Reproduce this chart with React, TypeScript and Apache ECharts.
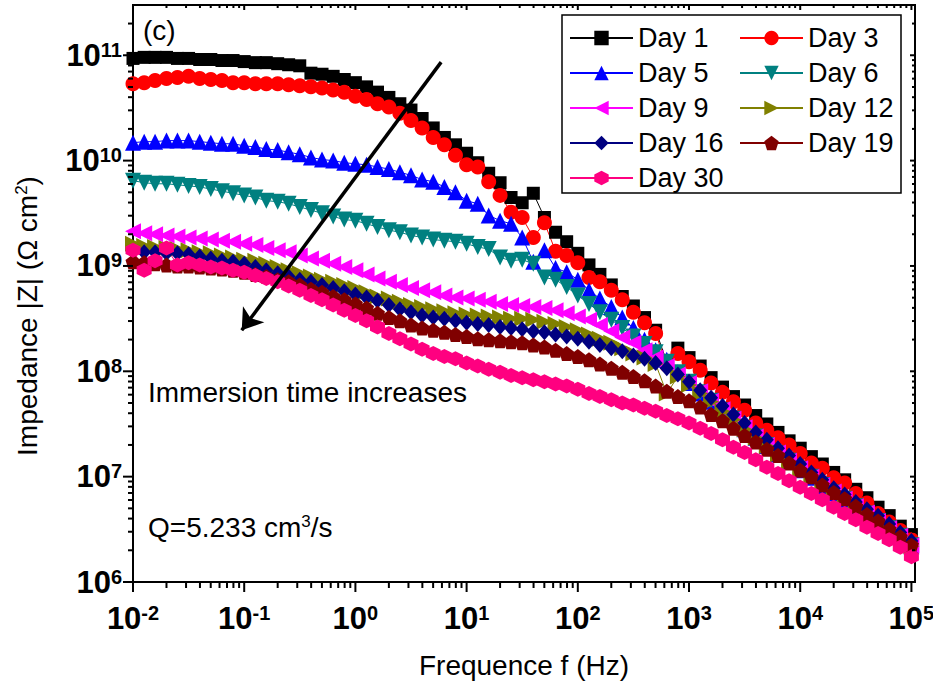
import React, { useEffect, useRef } from 'react';
import * as echarts from 'echarts';

// Frequencies (Hz), 10 points per decade, 10^-2 .. 10^5
const FREQ_HZ = [
  0.01, 0.0126, 0.0158, 0.02, 0.0251, 0.0316, 0.0398, 0.0501, 0.0631, 0.0794,
  0.1, 0.126, 0.158, 0.2, 0.251, 0.316, 0.398, 0.501, 0.631, 0.794,
  1, 1.26, 1.58, 2, 2.51, 3.16, 3.98, 5.01, 6.31, 7.94,
  10, 12.6, 15.8, 20, 25.1, 31.6, 39.8, 50.1, 63.1, 79.4,
  100, 126, 158, 200, 251, 316, 398, 501, 631, 794,
  1000, 1260, 1580, 2000, 2510, 3160, 3980, 5010, 6310, 7940,
  10000, 12600, 15800, 20000, 25100, 31600, 39800, 50100, 63100, 79400,
  100000,
];

// log10 |Z| (ohm cm^2)
const DAY_1 = [
  10.97, 10.98, 10.98, 10.98, 10.97, 10.97, 10.96, 10.96, 10.95, 10.95,
  10.94, 10.93, 10.93, 10.92, 10.91, 10.90, 10.83, 10.82, 10.80, 10.77,
  10.74, 10.70, 10.65, 10.60, 10.54, 10.48, 10.40, 10.31, 10.22, 10.15,
  10.07, 9.98, 9.88, 9.79, 9.65, 9.60, 9.69, 9.46, 9.32, 9.23,
  9.12, 9.01, 8.92, 8.82, 8.71, 8.62, 8.51, 8.39, 8.09, 8.22,
  8.13, 8.05, 7.94, 7.85, 7.76, 7.68, 7.58, 7.50, 7.42, 7.34,
  7.27, 7.19, 7.12, 7.04, 6.97, 6.88, 6.80, 6.71, 6.63, 6.53,
  6.45,
];
const DAY_3 = [
  10.73, 10.74, 10.76, 10.78, 10.79, 10.80, 10.78, 10.77, 10.76, 10.74,
  10.74, 10.73, 10.73, 10.73, 10.72, 10.71, 10.70, 10.69, 10.67, 10.65,
  10.61, 10.58, 10.54, 10.51, 10.45, 10.38, 10.31, 10.22, 10.15, 10.05,
  9.96, 9.94, 9.80, 9.67, 9.51, 9.46, 9.27, 9.41, 9.14, 9.10,
  9.03, 8.89, 8.85, 8.77, 8.68, 8.56, 8.46, 8.36, 8.06, 8.17,
  8.09, 8.01, 7.89, 7.80, 7.71, 7.63, 7.51, 7.44, 7.37, 7.30,
  7.22, 7.13, 7.08, 6.99, 6.94, 6.84, 6.75, 6.65, 6.57, 6.49,
  6.40,
];
const DAY_5 = [
  10.17, 10.18, 10.18, 10.19, 10.19, 10.19, 10.18, 10.17, 10.16, 10.16,
  10.14, 10.13, 10.11, 10.10, 10.08, 10.06, 10.03, 10.01, 10.00, 9.98,
  9.97, 9.96, 9.94, 9.92, 9.89, 9.86, 9.82, 9.80, 9.75, 9.70,
  9.62, 9.59, 9.48, 9.43, 9.40, 9.27, 9.04, 9.15, 8.98, 8.94,
  8.87, 8.77, 8.69, 8.61, 8.51, 8.41, 8.30, 8.20, 8.11, 7.99,
  7.89, 7.79, 7.71, 7.62, 7.54, 7.45, 7.37, 7.29, 7.21, 7.14,
  7.06, 6.99, 6.91, 6.84, 6.78, 6.71, 6.64, 6.57, 6.50, 6.43,
  6.34,
];
const DAY_6 = [
  9.81, 9.79, 9.78, 9.78, 9.77, 9.76, 9.75, 9.73, 9.71, 9.69,
  9.67, 9.65, 9.62, 9.61, 9.59, 9.56, 9.53, 9.50, 9.47, 9.44,
  9.43, 9.40, 9.37, 9.34, 9.32, 9.29, 9.27, 9.25, 9.24, 9.23,
  9.21, 9.18, 9.16, 9.08, 9.05, 9.06, 9.02, 8.89, 8.87, 8.80,
  8.72, 8.64, 8.56, 8.49, 8.41, 8.33, 8.26, 8.18, 8.09, 7.99,
  7.90, 7.80, 7.72, 7.63, 7.55, 7.46, 7.38, 7.30, 7.22, 7.15,
  7.07, 7.00, 6.92, 6.85, 6.79, 6.72, 6.65, 6.58, 6.51, 6.44,
  6.35,
];
const DAY_9 = [
  9.33, 9.31, 9.30, 9.29, 9.28, 9.27, 9.26, 9.25, 9.24, 9.23,
  9.21, 9.20, 9.17, 9.15, 9.13, 9.10, 9.07, 9.05, 9.02, 8.99,
  8.96, 8.92, 8.88, 8.85, 8.82, 8.79, 8.77, 8.75, 8.72, 8.70,
  8.69, 8.68, 8.66, 8.64, 8.63, 8.62, 8.61, 8.60, 8.58, 8.55,
  8.52, 8.49, 8.44, 8.38, 8.32, 8.27, 8.20, 8.13, 8.05, 7.97,
  7.89, 7.81, 7.72, 7.64, 7.55, 7.47, 7.38, 7.30, 7.23, 7.15,
  7.08, 7.00, 6.92, 6.86, 6.79, 6.72, 6.66, 6.58, 6.51, 6.44,
  6.35,
];
const DAY_12 = [
  9.21, 9.19, 9.18, 9.17, 9.16, 9.15, 9.13, 9.12, 9.10, 9.08,
  9.06, 9.05, 9.02, 8.99, 8.96, 8.93, 8.90, 8.87, 8.85, 8.82,
  8.79, 8.75, 8.71, 8.69, 8.66, 8.63, 8.61, 8.59, 8.57, 8.55,
  8.54, 8.53, 8.52, 8.51, 8.50, 8.50, 8.49, 8.47, 8.45, 8.42,
  8.39, 8.35, 8.31, 8.27, 8.22, 8.17, 8.13, 8.07, 7.79, 7.95,
  7.87, 7.79, 7.71, 7.62, 7.54, 7.45, 7.37, 7.29, 7.21, 7.14,
  7.06, 6.99, 6.91, 6.84, 6.78, 6.71, 6.65, 6.58, 6.50, 6.43,
  6.34,
];
const DAY_16 = [
  9.14, 9.13, 9.13, 9.12, 9.12, 9.11, 9.09, 9.07, 9.05, 9.04,
  9.02, 8.99, 8.96, 8.93, 8.90, 8.87, 8.85, 8.82, 8.79, 8.76,
  8.73, 8.70, 8.67, 8.63, 8.59, 8.56, 8.53, 8.51, 8.50, 8.48,
  8.46, 8.45, 8.44, 8.42, 8.41, 8.40, 8.38, 8.37, 8.35, 8.33,
  8.31, 8.28, 8.25, 8.22, 8.19, 8.15, 8.12, 8.08, 8.03, 7.97,
  7.90, 7.82, 7.75, 7.67, 7.59, 7.51, 7.42, 7.35, 7.27, 7.20,
  7.12, 7.04, 6.97, 6.89, 6.83, 6.76, 6.69, 6.63, 6.55, 6.47,
  6.39,
];
const DAY_19 = [
  9.04, 9.03, 9.02, 9.01, 9.00, 9.00, 8.99, 8.98, 8.97, 8.96,
  8.94, 8.92, 8.90, 8.87, 8.85, 8.82, 8.78, 8.75, 8.71, 8.68,
  8.64, 8.60, 8.55, 8.51, 8.48, 8.44, 8.41, 8.39, 8.37, 8.35,
  8.33, 8.31, 8.30, 8.29, 8.28, 8.27, 8.25, 8.23, 8.20, 8.17,
  8.14, 8.11, 8.07, 8.03, 7.99, 7.95, 7.91, 7.86, 7.81, 7.76,
  7.72, 7.66, 7.59, 7.53, 7.46, 7.39, 7.33, 7.26, 7.20, 7.13,
  7.06, 7.00, 6.92, 6.85, 6.79, 6.72, 6.64, 6.58, 6.50, 6.43,
  6.35,
];
const DAY_30 = [
  9.15, 8.96, 9.05, 9.17, 9.01, 9.03, 9.01, 8.99, 8.98, 8.96,
  8.94, 8.91, 8.88, 8.85, 8.81, 8.77, 8.72, 8.68, 8.63, 8.58,
  8.53, 8.48, 8.42, 8.36, 8.31, 8.26, 8.21, 8.17, 8.14, 8.12,
  8.08, 8.05, 8.02, 7.99, 7.96, 7.94, 7.92, 7.90, 7.88, 7.86,
  7.83, 7.79, 7.76, 7.73, 7.70, 7.68, 7.65, 7.62, 7.58, 7.55,
  7.51, 7.46, 7.41, 7.35, 7.28, 7.23, 7.16, 7.09, 7.03, 6.96,
  6.90, 6.84, 6.78, 6.71, 6.65, 6.59, 6.52, 6.46, 6.40, 6.33,
  6.24,
];

const SERIES_NAMES = ['Day 1', 'Day 3', 'Day 5', 'Day 6', 'Day 9', 'Day 12', 'Day 16', 'Day 19', 'Day 30'];
const SERIES_VALUES = [DAY_1, DAY_3, DAY_5, DAY_6, DAY_9, DAY_12, DAY_16, DAY_19, DAY_30];

// Axis ranges and ticks
const X_MIN = 0.01;
const X_MAX = 1.077e5;
const Y_MIN = 1e6;
const Y_MAX = 3e11;
const X_MAJOR_TICKS = [0.01, 0.1, 1, 10, 100, 1000, 10000, 100000];
const Y_MAJOR_TICKS = [1e6, 1e7, 1e8, 1e9, 1e10, 1e11];
const MINOR_STEPS = [2, 3, 4, 5, 6, 7, 8, 9];

// Annotation arrow (data coordinates: Hz, ohm cm^2)
const ARROW_START = [5.9, 8.6e10];
const ARROW_END = [0.095, 2.45e8];

const FONT = '"Liberation Sans", Arial, Helvetica, sans-serif';

const PENTAGON = 'path://M0,-10 L9.51,-3.09 L5.88,8.09 L-5.88,8.09 L-9.51,-3.09 Z';
const HEXAGON = 'path://M0,-10 L8.66,-5 L8.66,5 L0,10 L-8.66,5 L-8.66,-5 Z';

const STYLES = [
  { color: '#000000', symbol: 'rect', size: 13, rotate: 0 },
  { color: '#FF0000', symbol: 'circle', size: 15, rotate: 0 },
  { color: '#0000FF', symbol: 'triangle', size: 16, rotate: 0 },
  { color: '#008080', symbol: 'triangle', size: 16, rotate: 180 },
  { color: '#FF00FF', symbol: 'triangle', size: 16, rotate: 90 },
  { color: '#808000', symbol: 'triangle', size: 16, rotate: -90 },
  { color: '#000080', symbol: 'diamond', size: [14, 16], rotate: 0 },
  { color: '#800000', symbol: PENTAGON, size: 15, rotate: 0 },
  { color: '#FF0080', symbol: HEXAGON, size: 15, rotate: 0 },
];

function powLabel(v: number): string {
  const e = Math.log10(v);
  const r = Math.round(e);
  if (Math.abs(e - r) > 1e-6) return '';
  return `{b|10}{s|${r}}`;
}

const tickRich = {
  b: { fontSize: 31, fontWeight: 'bold', fontFamily: FONT, color: '#000' },
  s: { fontSize: 20, fontWeight: 'bold', fontFamily: FONT, color: '#000', verticalAlign: 'top' },
};

function buildOption(): any {
  const xTicks: number[][] = [];
  X_MAJOR_TICKS.forEach((v) => xTicks.push([v, Y_MIN, 1]));
  for (let i = 0; i < X_MAJOR_TICKS.length - 1; i++) {
    MINOR_STEPS.forEach((m) => xTicks.push([X_MAJOR_TICKS[i] * m, Y_MIN, 0]));
  }
  const yTicks: number[][] = [];
  Y_MAJOR_TICKS.forEach((v) => yTicks.push([X_MIN, v, 1]));
  Y_MAJOR_TICKS.forEach((v) => {
    MINOR_STEPS.forEach((m) => {
      if (v * m < Y_MAX * 0.99) yTicks.push([X_MIN, v * m, 0]);
    });
  });

  const tickStyle = { stroke: '#000', lineWidth: 2 };

  const dataSeries = SERIES_NAMES.map((name, i) => {
    const st = STYLES[i];
    const s: any = {
      name,
      type: 'line',
      data: FREQ_HZ.map((f, k) => [f, Math.pow(10, SERIES_VALUES[i][k])]),
      symbol: st.symbol,
      symbolSize: st.size,
      symbolRotate: st.rotate,
      showSymbol: true,
      showAllSymbol: true,
      lineStyle: { color: st.color, width: 1 },
      itemStyle: { color: st.color },
      emphasis: { disabled: true },
      z: 2,
    };
    if (i === SERIES_NAMES.length - 1) {
      s.markLine = {
        silent: true,
        symbol: ['none', 'arrow'],
        symbolSize: 20,
        z: 10,
        lineStyle: { color: '#000', width: 3.5, type: 'solid' },
        itemStyle: { color: '#000' },
        label: { show: false },
        emphasis: { disabled: true },
        data: [[{ coord: ARROW_START }, { coord: ARROW_END }]],
      };
    }
    return s;
  });

  return {
    animation: false,
    backgroundColor: '#fff',
    grid: {
      left: 133, right: 18, top: 5, bottom: 110,
      show: true, borderColor: '#000', borderWidth: 2,
      containLabel: false, outerBoundsMode: 'none',
    },
    xAxis: {
      type: 'log', logBase: 10, min: X_MIN, max: X_MAX, interval: 1,
      axisLine: { show: false }, axisTick: { show: false },
      splitLine: { show: false }, minorTick: { show: false },
      axisLabel: { formatter: powLabel, rich: tickRich, margin: 21, showMinLabel: true, showMaxLabel: true },
      name: 'Frequence f (Hz)', nameLocation: 'middle', nameGap: 69,
      nameTextStyle: { fontSize: 28, fontFamily: FONT, color: '#000' },
    },
    yAxis: {
      type: 'log', logBase: 10, min: Y_MIN, max: Y_MAX, interval: 1,
      axisLine: { show: false }, axisTick: { show: false },
      splitLine: { show: false }, minorTick: { show: false },
      axisLabel: { formatter: powLabel, rich: tickRich, margin: 11, showMinLabel: true },
    },
    legend: {
      data: SERIES_NAMES,
      left: 569, top: 23, width: 340, orient: 'horizontal',
      itemWidth: 63, itemHeight: 18, itemGap: 5, padding: 0,
      selectedMode: false,
      textStyle: { fontSize: 27, fontFamily: FONT, color: '#000', width: 96, lineHeight: 30 },
    },
    graphic: [
      { type: 'rect', shape: { x: 562, y: 15, width: 339, height: 178 }, style: { fill: 'transparent', stroke: '#000', lineWidth: 1.5 }, z: 3 },
      { type: 'text', x: 143, y: 30, style: { text: '(c)', fontSize: 28, fontFamily: FONT, fill: '#000', align: 'left', verticalAlign: 'middle' } },
      { type: 'text', x: 148, y: 392, style: { text: 'Immersion time increases', fontSize: 28, fontFamily: FONT, fill: '#000', align: 'left', verticalAlign: 'middle' } },
      {
        type: 'text', x: 148, y: 527,
        style: {
          text: 'Q=5.233 cm{sup|3}/s', fontSize: 28, fontFamily: FONT, fill: '#000', align: 'left', verticalAlign: 'middle',
          rich: { sup: { fontSize: 17, fontFamily: FONT, fill: '#000', verticalAlign: 'top' } },
        },
      },
      {
        type: 'text', x: 27, y: 316, rotation: Math.PI / 2,
        style: {
          text: 'Impedance |Z| (\u03A9 cm{sup|2})', fontSize: 28, fontFamily: FONT, fill: '#000', align: 'center', verticalAlign: 'middle',
          rich: { sup: { fontSize: 17, fontFamily: FONT, fill: '#000', verticalAlign: 'top' } },
        },
      },
    ],
    series: [
      ...dataSeries,
      {
        type: 'custom',
        coordinateSystem: 'cartesian2d',
        clip: false,
        silent: true,
        z: 10,
        dimensions: ['f', 'z', 'major'],
        encode: { x: 'f', y: 'z' },
        data: xTicks,
        renderItem: (params: any, api: any) => {
          const v = api.value(0);
          const major = api.value(2) === 1;
          const b = api.coord([v, Y_MIN]);
          const t = api.coord([v, Y_MAX]);
          const out = major ? 10 : 6;
          const inn = major ? 5 : 3;
          return {
            type: 'group',
            children: [
              { type: 'line', shape: { x1: b[0], y1: b[1], x2: b[0], y2: b[1] + out }, style: tickStyle },
              { type: 'line', shape: { x1: t[0], y1: t[1], x2: t[0], y2: t[1] + inn }, style: tickStyle },
            ],
          };
        },
      },
      {
        type: 'custom',
        coordinateSystem: 'cartesian2d',
        clip: false,
        silent: true,
        z: 10,
        dimensions: ['f', 'z', 'major'],
        encode: { x: 'f', y: 'z' },
        data: yTicks,
        renderItem: (params: any, api: any) => {
          const v = api.value(1);
          const major = api.value(2) === 1;
          const l = api.coord([X_MIN, v]);
          const r = api.coord([X_MAX, v]);
          const out = major ? 10 : 5;
          const inn = major ? 5 : 3;
          return {
            type: 'group',
            children: [
              { type: 'line', shape: { x1: l[0], y1: l[1], x2: l[0] - out, y2: l[1] }, style: tickStyle },
              { type: 'line', shape: { x1: r[0], y1: r[1], x2: r[0] - inn, y2: r[1] }, style: tickStyle },
            ],
          };
        },
      },
    ],
  };
}

export default function App() {
  const ref = useRef<HTMLDivElement>(null);
  useEffect(() => {
    if (!ref.current) return;
    const chart = echarts.init(ref.current, undefined, { renderer: 'svg' });
    chart.setOption(buildOption());
    return () => {
      chart.dispose();
    };
  }, []);
  return (
    <div
      ref={ref}
      style={{ position: 'absolute', left: 0, top: 0, width: 933, height: 692, background: '#fff' }}
    />
  );
}
